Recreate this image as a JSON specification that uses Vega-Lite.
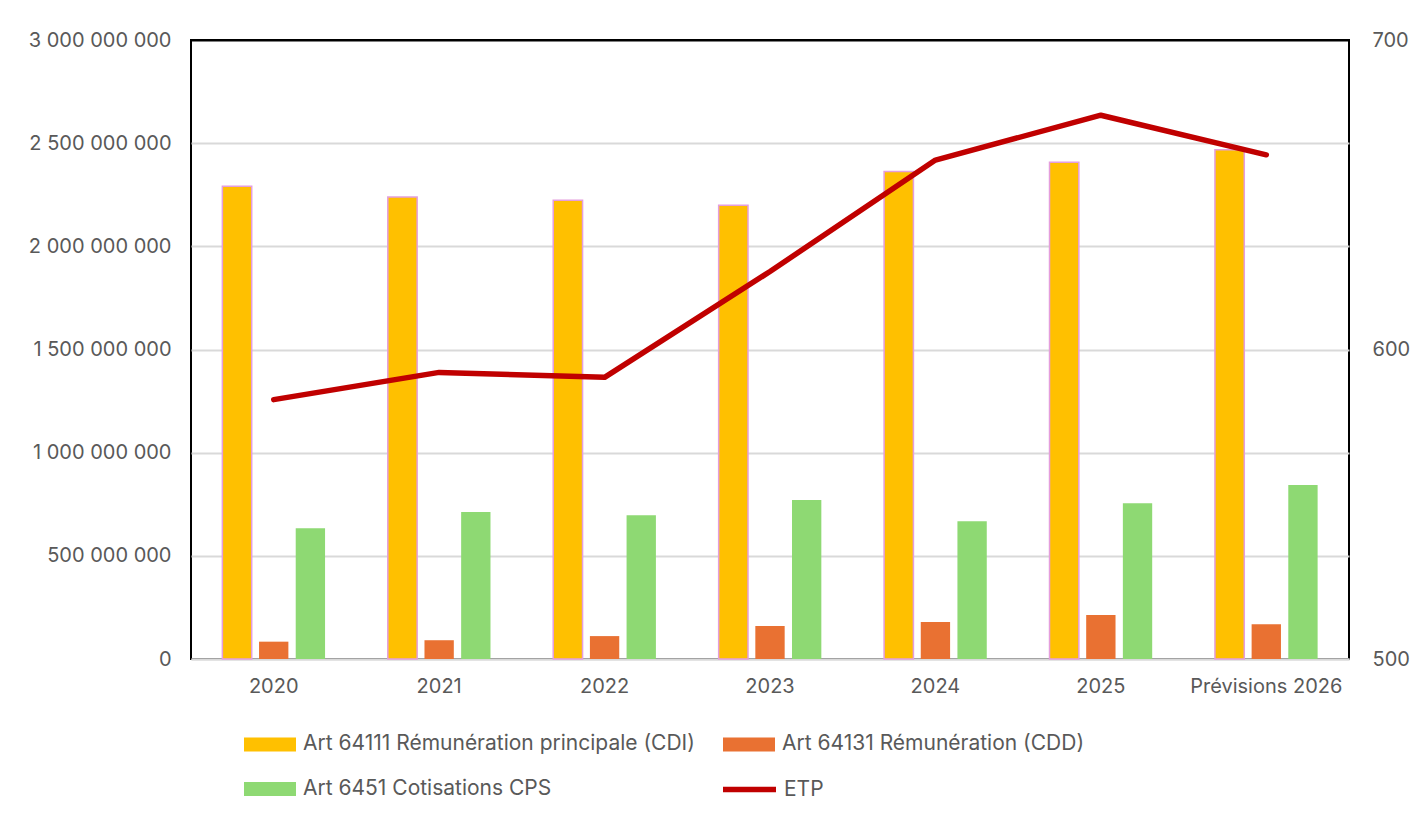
{
  "$schema": "https://vega.github.io/schema/vega-lite/v6.json",
  "width": 1158,
  "height": 619,
  "autosize": {"type": "none"},
  "padding": {"left": 191, "top": 40, "right": 70, "bottom": 157},
  "background": "white",
  "config": {
    "font": "Inter",
    "locale": {"number": {"decimal": ",", "thousands": " ", "grouping": [3], "currency": ["", " €"]}},
    "view": {"stroke": "black", "strokeWidth": 2},
    "axis": {"labelFont": "Inter", "labelFontSize": 20, "labelColor": "#595959", "ticks": false, "domain": false, "grid": false, "title": null},
    "legend": {"labelFont": "Inter", "labelFontSize": 21, "labelColor": "#595959", "title": null, "padding": 0, "labelLimit": 600}
  },
  "layer": [
    {
      "data": {"values": [
        {"annee": "2020", "serie": "Art 64111 Rémunération principale (CDI)", "valeur": 2291000000},
        {"annee": "2020", "serie": "Art 64131 Rémunération (CDD)", "valeur": 84000000},
        {"annee": "2020", "serie": "Art 6451 Cotisations CPS", "valeur": 634000000},
        {"annee": "2021", "serie": "Art 64111 Rémunération principale (CDI)", "valeur": 2239000000},
        {"annee": "2021", "serie": "Art 64131 Rémunération (CDD)", "valeur": 91000000},
        {"annee": "2021", "serie": "Art 6451 Cotisations CPS", "valeur": 712000000},
        {"annee": "2022", "serie": "Art 64111 Rémunération principale (CDI)", "valeur": 2223000000},
        {"annee": "2022", "serie": "Art 64131 Rémunération (CDD)", "valeur": 111000000},
        {"annee": "2022", "serie": "Art 6451 Cotisations CPS", "valeur": 697000000},
        {"annee": "2023", "serie": "Art 64111 Rémunération principale (CDI)", "valeur": 2199000000},
        {"annee": "2023", "serie": "Art 64131 Rémunération (CDD)", "valeur": 160000000},
        {"annee": "2023", "serie": "Art 6451 Cotisations CPS", "valeur": 770000000},
        {"annee": "2024", "serie": "Art 64111 Rémunération principale (CDI)", "valeur": 2363000000},
        {"annee": "2024", "serie": "Art 64131 Rémunération (CDD)", "valeur": 179000000},
        {"annee": "2024", "serie": "Art 6451 Cotisations CPS", "valeur": 668000000},
        {"annee": "2025", "serie": "Art 64111 Rémunération principale (CDI)", "valeur": 2407000000},
        {"annee": "2025", "serie": "Art 64131 Rémunération (CDD)", "valeur": 213000000},
        {"annee": "2025", "serie": "Art 6451 Cotisations CPS", "valeur": 755000000},
        {"annee": "Prévisions 2026", "serie": "Art 64111 Rémunération principale (CDI)", "valeur": 2468000000},
        {"annee": "Prévisions 2026", "serie": "Art 64131 Rémunération (CDD)", "valeur": 169000000},
        {"annee": "Prévisions 2026", "serie": "Art 6451 Cotisations CPS", "valeur": 843000000}
      ]},
      "mark": {"type": "bar", "strokeWidth": 1.5},
      "encoding": {
        "x": {"field": "annee", "type": "nominal", "sort": ["2020", "2021", "2022", "2023", "2024", "2025", "Prévisions 2026"],
          "scale": {"paddingInner": 0.335, "paddingOuter": 0.1675},
          "axis": {"labelAngle": 0, "domain": true, "domainColor": "#d9d9d9", "domainWidth": 2, "labelPadding": 17}},
        "xOffset": {"field": "serie", "type": "nominal",
          "sort": ["Art 64111 Rémunération principale (CDI)", "Art 64131 Rémunération (CDD)", "Art 6451 Cotisations CPS"],
          "scale": {"paddingInner": 0.2, "paddingOuter": 0.1}},
        "y": {"field": "valeur", "type": "quantitative",
          "scale": {"domain": [0, 3000000000], "nice": false},
          "axis": {"values": [0, 500000000, 1000000000, 1500000000, 2000000000, 2500000000, 3000000000], "format": ",d",
            "grid": true, "gridWidth": 2,
            "gridColor": {"condition": {"test": "datum.value >= 3000000000", "value": "black"}, "value": "#d9d9d9"},
            "labelPadding": 20}},
        "color": {"field": "serie", "type": "nominal",
          "scale": {"domain": ["Art 64111 Rémunération principale (CDI)", "Art 64131 Rémunération (CDD)", "Art 6451 Cotisations CPS"],
            "range": ["#FFC000", "#E97132", "#8ED973"]},
          "legend": {"orient": "none", "legendX": 52, "legendY": 677, "columns": 2, "direction": "horizontal",
            "symbolType": "M-1,-0.27H1V0.27H-1Z", "symbolSize": 2704, "symbolOpacity": 1,
            "labelOffset": 6, "columnPadding": 25, "rowPadding": 7,
            "encode": {"symbols": {"update": {
              "stroke": {"signal": "datum.value === 'Art 64111 Rémunération principale (CDI)' ? '#E49EDD' : 'transparent'"},
              "strokeWidth": {"value": 2}}}}}},
        "stroke": {"condition": {"test": "datum.serie === 'Art 64111 Rémunération principale (CDI)'", "value": "#E49EDD"}, "value": "transparent"}
      }
    },
    {
      "data": {"values": [
        {"annee": "2020", "etp": 583.8},
        {"annee": "2021", "etp": 592.6},
        {"annee": "2022", "etp": 591.0},
        {"annee": "2023", "etp": 625.2},
        {"annee": "2024", "etp": 661.2},
        {"annee": "2025", "etp": 675.7},
        {"annee": "Prévisions 2026", "etp": 662.9}
      ]},
      "mark": {"type": "line", "strokeWidth": 5.5, "strokeCap": "round", "strokeJoin": "round"},
      "encoding": {
        "x": {"field": "annee", "type": "nominal", "sort": ["2020", "2021", "2022", "2023", "2024", "2025", "Prévisions 2026"]},
        "y": {"field": "etp", "type": "quantitative", "scale": {"domain": [500, 700], "nice": false},
          "axis": {"orient": "right", "values": [500, 600, 700], "labelPadding": 23}},
        "stroke": {"datum": "ETP", "type": "nominal", "scale": {"range": ["#C00000"]},
          "legend": {"orient": "none", "legendX": 529, "legendY": 720, "symbolType": "stroke", "symbolSize": 2809,
            "symbolStrokeWidth": 5.5, "labelOffset": 5}}
      }
    }
  ],
  "resolve": {"scale": {"y": "independent", "stroke": "independent"}}
}
